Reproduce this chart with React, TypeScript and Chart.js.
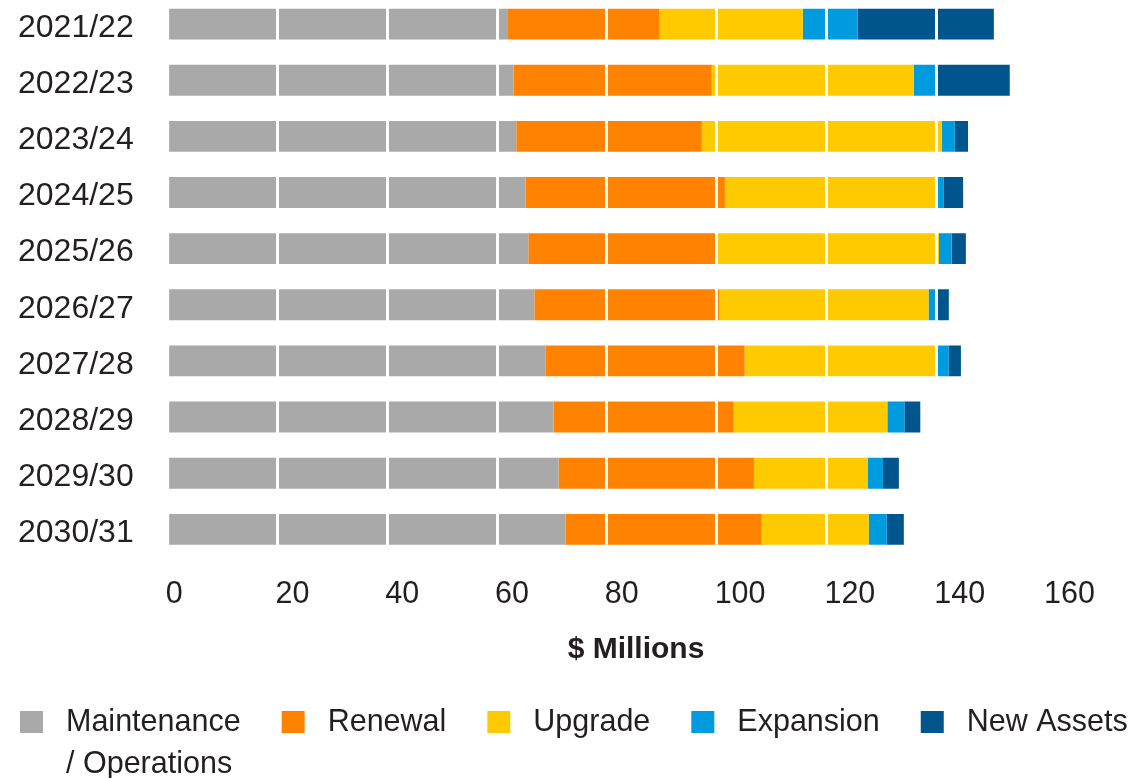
import React, { useEffect, useRef } from "react";
import { Chart, registerables } from "chart.js";

Chart.register(...registerables);

// ---------- data ----------
const CATEGORIES = [
  "2021/22",
  "2022/23",
  "2023/24",
  "2024/25",
  "2025/26",
  "2026/27",
  "2027/28",
  "2028/29",
  "2029/30",
  "2030/31",
];

const MAINTENANCE = [62.0, 63.0, 63.5, 65.2, 65.7, 66.8, 68.8, 70.3, 71.2, 72.5];
const RENEWAL = [27.6, 36.1, 33.8, 36.3, 34.2, 33.7, 36.3, 32.8, 35.6, 35.7];
const UPGRADE = [26.1, 36.8, 43.7, 38.3, 40.6, 38.1, 34.7, 28.0, 20.7, 19.5];
const EXPANSION = [10.0, 4.0, 2.4, 1.6, 2.3, 1.6, 2.5, 3.1, 2.8, 3.3];
const NEW_ASSETS = [24.8, 13.5, 2.4, 3.5, 2.6, 2.1, 2.2, 2.9, 2.9, 3.1];

const SERIES_LABELS = ["Maintenance / Operations", "Renewal", "Upgrade", "Expansion", "New Assets"];
const LEGEND_LINES = [["Maintenance", "/ Operations"], ["Renewal"], ["Upgrade"], ["Expansion"], ["New Assets"]];
const X_TICKS = [0, 20, 40, 60, 80, 100, 120, 140, 160];
const X_TITLE = "$ Millions";

// ---------- styles ----------
const COLORS = ["#a9a9aa", "#ff8200", "#ffcb00", "#009bde", "#00568c"];
const FONT_FAMILY = "'Liberation Sans', Arial, Helvetica, sans-serif";
const TEXT_COLOR = "#231f20";

const legendPlugin = {
  id: "customLegend",
  afterDraw(chart: any) {
    const ctx = chart.ctx as CanvasRenderingContext2D;
    ctx.save();
    ctx.font = `30.5px ${FONT_FAMILY}`;
    ctx.textBaseline = "middle";
    ctx.textAlign = "left";
    let x = 20;
    const y = chart.height - 56;
    chart.data.datasets.forEach((ds: any, i: number) => {
      ctx.fillStyle = ds.backgroundColor;
      ctx.fillRect(x, y - 11, 23, 22);
      ctx.fillStyle = TEXT_COLOR;
      const lines = LEGEND_LINES[i];
      let w = 0;
      lines.forEach((line, j) => {
        ctx.fillText(line, x + 46, y + 1 + j * 42);
        w = Math.max(w, ctx.measureText(line).width);
      });
      x += 46 + w + 41;
    });
    ctx.restore();
  },
};

export default function App() {
  const canvasRef = useRef<HTMLCanvasElement | null>(null);

  useEffect(() => {
    if (!canvasRef.current) return;
    const series = [MAINTENANCE, RENEWAL, UPGRADE, EXPANSION, NEW_ASSETS];
    const chart = new Chart(canvasRef.current, {
      type: "bar",
      data: {
        labels: CATEGORIES,
        datasets: series.map((d, i) => ({
          label: SERIES_LABELS[i],
          data: d,
          backgroundColor: COLORS[i],
          borderWidth: 0,
          barPercentage: 0.55,
          categoryPercentage: 1,
        })),
      },
      options: {
        indexAxis: "y",
        animation: false,
        responsive: true,
        maintainAspectRatio: false,
        layout: { padding: { left: 18, right: 89, top: 0, bottom: 110 } },
        plugins: {
          legend: { display: false },
          tooltip: { enabled: false },
          title: { display: false },
        },
        scales: {
          x: {
            type: "linear",
            stacked: true,
            min: 0,
            max: 160,
            afterBuildTicks: (axis: any) => {
              axis.ticks = X_TICKS.map((v) => ({ value: v }));
            },
            afterFit: (axis: any) => {
              axis.height -= axis.options.ticks.padding;
              axis.paddingLeft = 0;
              axis.paddingRight = 0;
            },
            grid: {
              color: "#ffffff",
              lineWidth: 3,
              drawTicks: false,
              z: 1,
            },
            border: { display: false },
            ticks: {
              align: "start",
              autoSkip: false,
              maxRotation: 0,
              padding: 18.5,
              labelOffset: -2,
              color: TEXT_COLOR,
              font: { family: FONT_FAMILY, size: 30.5 },
            },
            title: {
              display: true,
              text: "       " + X_TITLE,
              color: TEXT_COLOR,
              font: { family: FONT_FAMILY, size: 30, weight: "bold" },
              padding: { top: 19.5, bottom: 0 },
            },
          },
          y: {
            type: "category",
            stacked: true,
            afterFit: (axis: any) => {
              axis.width -= axis.options.ticks.padding;
              axis.paddingTop = 0;
              axis.paddingBottom = 0;
            },
            grid: { display: false, drawTicks: false },
            border: { display: false },
            ticks: {
              padding: 34,
              labelOffset: 4,
              color: TEXT_COLOR,
              font: { family: FONT_FAMILY, size: 32 },
            },
          },
        },
      },
      plugins: [legendPlugin],
    } as any);
    return () => chart.destroy();
  }, []);

  return (
    <div style={{ position: "fixed", left: 0, top: -4, width: 1135, height: 782 }}>
      <canvas ref={canvasRef} />
    </div>
  );
}
